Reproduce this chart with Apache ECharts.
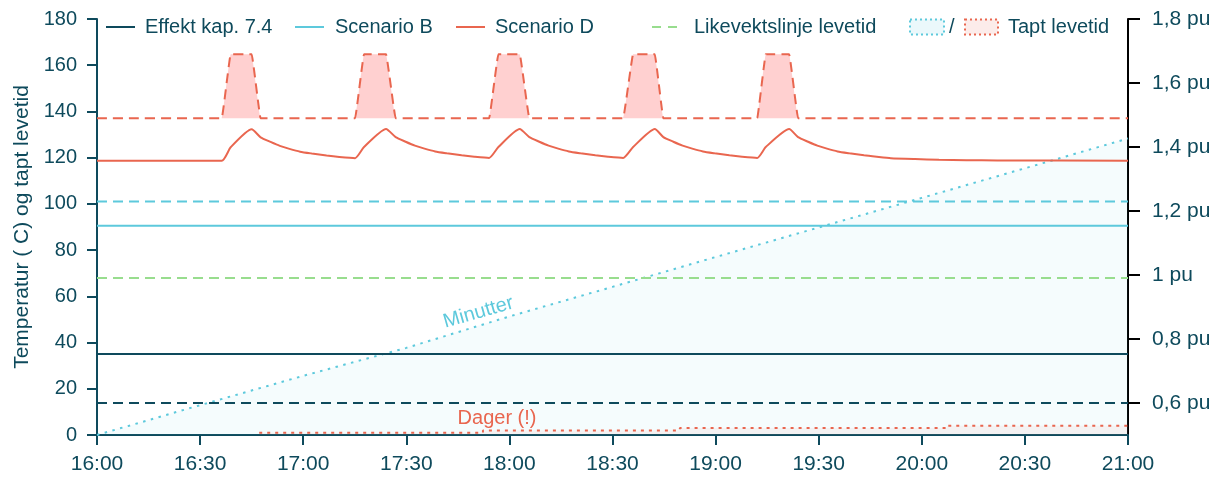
<!DOCTYPE html>
<html>
<head>
<meta charset="utf-8">
<script src="https://cdn.jsdelivr.net/npm/echarts@6/dist/echarts.min.js"></script>
<style>
  html, body { margin: 0; padding: 0; background: #ffffff; }
  #chart { width: 1218px; height: 482px; }
</style>
</head>
<body>
<div id="chart"></div>
<script>
// Time axis: minutes after 16:00, labelled every half hour
const timeLabels = ['16:00', '16:30', '17:00', '17:30', '18:00', '18:30', '19:00', '19:30', '20:00', '20:30', '21:00'];
const puTicks = [0.6, 0.8, 1, 1.2, 1.4, 1.6, 1.8];

// Flat lines (start and end of the period)
const spanTimes = [0, 300];
const effektTemp = [35.1, 35.1];      // °C
const effektLoad = [0.6, 0.6];        // pu
const scenBTemp = [90.5, 90.5];       // °C
const scenBLoad = [1.23, 1.23];       // pu
const equilibrium = [67.9, 67.9];     // °C

// Scenario D load (pu) with five peaks above the base load
const dLoadBase = 1.49;
const dLoadTimes = [0, 36.3, 38.9, 45.0, 47.6, 75.1, 77.7, 84.1, 86.9, 114.1, 116.8, 123.0, 125.8,
  153.1, 156.0, 162.3, 164.8, 192.1, 194.6, 201.4, 204.0, 300];
const dLoadValues = [1.49, 1.49, 1.69, 1.69, 1.49, 1.49, 1.69, 1.69, 1.49, 1.49, 1.69, 1.69, 1.49,
  1.49, 1.69, 1.69, 1.49, 1.49, 1.69, 1.69, 1.49, 1.49];

// Scenario D temperature (°C)
const dTempTimes = [0, 36.3, 38.9, 45.0, 47.6, 50.5, 53.2, 56.0, 59.1, 62.5, 66.8, 70.5,
  75.1, 77.7, 84.1, 86.9, 89.8, 92.5, 95.3, 98.4, 101.8, 106.1, 109.8,
  114.1, 116.8, 123.0, 125.8, 128.7, 131.4, 134.2, 137.3, 140.7, 145.0, 148.7,
  153.1, 156.0, 162.3, 164.8, 167.7, 170.4, 173.2, 176.3, 179.7, 184.0, 187.7,
  192.1, 194.6, 201.4, 204.0, 206.9, 209.6, 212.4, 215.5, 218.9, 223.2, 226.9,
  231.0, 238.0, 245.0, 253.0, 262.0, 300];
const dTempValues = [118.7, 118.7, 124.5, 132.3, 128.8, 126.8, 125.1, 123.8, 122.6, 121.8, 120.9, 120.3,
  119.8, 124.6, 132.4, 128.9, 126.9, 125.2, 123.9, 122.7, 121.9, 121.0, 120.4,
  119.9, 124.6, 132.4, 128.9, 126.9, 125.2, 123.9, 122.7, 121.9, 121.0, 120.4,
  119.9, 124.6, 132.4, 128.9, 126.9, 125.2, 123.9, 122.7, 121.9, 121.0, 120.4,
  119.9, 124.6, 132.4, 128.9, 126.9, 125.2, 123.9, 122.7, 121.9, 121.0, 120.4,
  119.8, 119.4, 119.1, 118.9, 118.8, 118.7];

// Lost lifetime: minutes (Scenario B) and days (Scenario D)
const minuttTimes = [0, 30, 60, 90, 120, 150, 180, 210, 240, 270, 300];
const minuttValues = [0, 12.9, 25.6, 37.7, 51.3, 64.1, 77.0, 89.8, 102.6, 115.4, 128.3];
const dagerTimes = [47.2, 112.3, 112.3, 169.6, 169.6, 247.3, 247.3, 300];
const dagerValues = [1, 1, 2, 2, 3, 3, 4, 4];

const legendNames = ['Effekt kap. 7.4', 'Scenario B', 'Scenario D', 'Likevektslinje levetid'];

const dark = '#0e4a5c';
const cyan = '#5dc9dc';
const red = '#e9664f';
const green = '#98dd8e';
const font = 'Liberation Sans, Arial, sans-serif';

const zip = (xs, ys) => xs.map((x, i) => [x, ys[i]]);

const chart = echarts.init(document.getElementById('chart'), null, { renderer: 'canvas' });

const lineBase = { type: 'line', symbol: 'none', silent: true, animation: false };

// Legend drawn as graphics: a line sample followed by its label
function legendLine(x, color, dash, label, textX) {
  return [
    { type: 'line', silent: true, shape: { x1: x, y1: 27, x2: x + 29, y2: 27 },
      style: { stroke: color, lineWidth: 2, lineDash: dash || null } },
    { type: 'text', silent: true, x: textX, y: 27,
      style: { text: label, fill: dark, fontSize: 20, fontFamily: font, verticalAlign: 'middle' } }
  ];
}

const legendGraphics = [].concat(
  legendLine(106, dark, null, legendNames[0], 145),
  legendLine(295, cyan, null, legendNames[1], 335),
  legendLine(456, red, null, legendNames[2], 495),
  legendLine(652, green, [9, 7], legendNames[3], 694),
  [
    { type: 'rect', silent: true, shape: { x: 910, y: 19.5, width: 34, height: 15 },
      style: { fill: 'rgba(93, 201, 220, 0.12)', stroke: cyan, lineWidth: 2, lineDash: [2, 3] } },
    { type: 'text', silent: true, x: 949, y: 27,
      style: { text: '/', fill: dark, fontSize: 20, fontFamily: font, verticalAlign: 'middle' } },
    { type: 'rect', silent: true, shape: { x: 965, y: 19.5, width: 33, height: 15 },
      style: { fill: 'rgba(233, 102, 79, 0.12)', stroke: red, lineWidth: 2, lineDash: [2, 3] } },
    { type: 'text', silent: true, x: 1008, y: 27,
      style: { text: 'Tapt levetid', fill: dark, fontSize: 20, fontFamily: font, verticalAlign: 'middle' } }
  ]
);

chart.setOption({
  animation: false,
  textStyle: { fontFamily: font },
  grid: { left: 97, right: 90, top: 19, bottom: 47, containLabel: false },
  xAxis: {
    type: 'value', min: 0, max: 300, interval: 30,
    axisLine: { show: true, lineStyle: { color: dark, width: 2 } },
    axisTick: { show: true, length: 10, lineStyle: { color: dark, width: 2 } },
    axisLabel: { color: dark, fontSize: 21, margin: 19, fontFamily: font,
      formatter: v => timeLabels[Math.round(v / 30)] },
    splitLine: { show: false }
  },
  yAxis: [{
    type: 'value', min: 0, max: 180, interval: 20,
    name: 'Temperatur ( C) og tapt levetid', nameLocation: 'middle', nameGap: 63,
    nameTextStyle: { color: dark, fontSize: 21, fontFamily: font },
    axisLine: { show: true, lineStyle: { color: dark, width: 2 } },
    axisTick: { show: true, length: 10, lineStyle: { color: dark, width: 2 } },
    axisLabel: { color: dark, fontSize: 20, margin: 20, fontFamily: font },
    splitLine: { show: false }
  }, {
    type: 'value', min: 0.5, max: 1.8, position: 'right', alignTicks: false,
    axisLine: { show: true, lineStyle: { color: '#000000', width: 2 } },
    axisTick: { show: true, length: 12, customValues: puTicks, lineStyle: { color: '#000000', width: 2 } },
    axisLabel: { color: dark, fontSize: 21, margin: 24, fontFamily: font, customValues: puTicks,
      formatter: v => String(Math.round(v * 10) / 10).replace('.', ',') + ' pu' },
    splitLine: { show: false }
  }],
  series: [
    Object.assign({}, lineBase, {
      name: 'Minutter', data: zip(minuttTimes, minuttValues), z: 1, color: cyan,
      lineStyle: { color: cyan, width: 2, type: [2.5, 5.5] },
      areaStyle: { color: 'rgba(93, 201, 220, 0.09)' },
      markPoint: {
        symbol: 'circle', symbolSize: 0, silent: true,
        label: { show: true, position: 'inside', formatter: 'Minutter', color: cyan,
          fontSize: 20, fontFamily: font, rotate: 16 },
        data: [{ coord: [111, 53] }]
      }
    }),
    Object.assign({}, lineBase, {
      name: 'Dager', data: zip(dagerTimes, dagerValues), z: 1, color: red,
      lineStyle: { color: red, width: 2, type: [3, 5] },
      areaStyle: { color: 'rgba(233, 102, 79, 0.10)' },
      markPoint: {
        symbol: 'circle', symbolSize: 0, silent: true,
        label: { show: true, position: 'inside', formatter: 'Dager (!)', color: red,
          fontSize: 20, fontFamily: font },
        data: [{ coord: [116.4, 7.0] }]
      }
    }),
    Object.assign({}, lineBase, {
      name: legendNames[0], data: zip(spanTimes, effektTemp), color: dark,
      lineStyle: { color: dark, width: 2 }
    }),
    Object.assign({}, lineBase, {
      name: legendNames[1], data: zip(spanTimes, scenBTemp), color: cyan,
      lineStyle: { color: cyan, width: 2 }
    }),
    Object.assign({}, lineBase, {
      name: legendNames[2], data: zip(dTempTimes, dTempValues), color: red, smooth: 0.2,
      lineStyle: { color: red, width: 2 }
    }),
    Object.assign({}, lineBase, {
      name: legendNames[3], data: zip(spanTimes, equilibrium), color: green,
      lineStyle: { color: green, width: 2, type: [10, 6] }
    }),
    Object.assign({}, lineBase, {
      name: legendNames[0], yAxisIndex: 1, data: zip(spanTimes, effektLoad), color: dark,
      lineStyle: { color: dark, width: 2, type: [10, 6] }
    }),
    Object.assign({}, lineBase, {
      name: legendNames[1], yAxisIndex: 1, data: zip(spanTimes, scenBLoad), color: cyan,
      lineStyle: { color: cyan, width: 2, type: [10, 6] }
    }),
    // Scenario D load: peaks shaded down to the base load
    Object.assign({}, lineBase, {
      name: legendNames[2], yAxisIndex: 1, data: zip(dLoadTimes, dLoadValues), color: red, z: 1,
      smooth: 0.1, smoothMonotone: 'x',
      lineStyle: { color: red, width: 2, type: [10, 6] },
      areaStyle: { color: '#ffd0d0', opacity: 1, origin: dLoadBase }
    })
  ],
  graphic: legendGraphics
});
</script>
</body>
</html>
